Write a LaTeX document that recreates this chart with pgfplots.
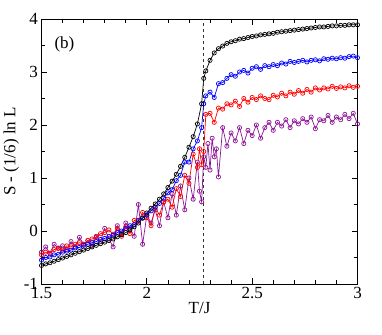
\documentclass[border=0pt]{standalone}
\usepackage{pgfplots}
\pgfplotsset{compat=1.18}
\usepackage{fontspec}
\setmainfont{Liberation Serif}

\definecolor{pur}{RGB}{140,20,150}

\pgfplotstableread{
T S
1.50 -0.40
1.52 -0.30
1.54 -0.42
1.56 -0.25
1.58 -0.32
1.60 -0.28
1.62 -0.35
1.64 -0.20
1.66 -0.30
1.68 -0.12
1.70 -0.25
1.72 -0.18
1.74 -0.28
1.76 -0.10
1.78 -0.20
1.80 0.05
1.82 -0.15
1.84 -0.30
1.86 0.10
1.88 -0.05
1.90 0.15
1.92 0.05
1.94 -0.10
1.96 0.50
1.98 -0.25
2.00 0.30
2.02 0.15
2.04 0.40
2.06 0.10
2.08 0.55
2.10 0.25
2.12 0.70
2.14 0.30
2.16 0.85
2.18 0.40
2.20 1.00
2.22 0.60
2.24 1.30
2.25 0.75
2.26 0.55
2.27 1.40
2.28 1.20
2.29 1.65
2.30 1.15
2.31 1.75
2.32 1.40
2.33 1.55
2.34 1.02
2.36 1.95
2.38 1.60
2.40 1.85
2.42 1.70
2.44 1.95
2.46 1.65
2.48 1.90
2.50 1.80
2.52 2.00
2.54 1.75
2.56 1.95
2.58 2.05
2.60 1.90
2.62 2.05
2.64 1.98
2.66 2.10
2.68 1.95
2.70 2.08
2.72 2.02
2.74 2.12
2.76 2.05
2.78 2.15
2.80 1.93
2.82 2.10
2.84 2.08
2.86 2.18
2.88 2.05
2.90 2.15
2.92 2.10
2.94 2.20
2.96 2.12
2.98 2.22
3.00 2.02
}\purpledata

\pgfplotstableread{
T S
1.50 -0.45
1.52 -0.40
1.54 -0.42
1.56 -0.35
1.58 -0.33
1.60 -0.36
1.62 -0.28
1.64 -0.30
1.66 -0.25
1.68 -0.22
1.70 -0.25
1.72 -0.18
1.74 -0.15
1.76 -0.12
1.78 -0.05
1.80 -0.03
1.82 0.02
1.84 -0.06
1.86 0.05
1.88 -0.10
1.90 0.08
1.92 -0.05
1.94 0.20
1.96 0.18
1.98 0.35
2.00 0.25
2.02 0.10
2.04 0.45
2.06 0.30
2.08 0.55
2.10 0.60
2.12 0.45
2.14 0.80
2.16 0.65
2.18 1.05
2.20 0.90
2.22 1.45
2.24 1.20
2.25 1.55
2.26 1.25
2.27 1.50
2.28 2.20
2.30 2.22
2.32 2.05
2.34 2.32
2.36 2.30
2.38 2.40
2.40 2.38
2.42 2.45
2.44 2.35
2.46 2.50
2.48 2.43
2.50 2.52
2.52 2.48
2.54 2.55
2.56 2.50
2.58 2.48
2.60 2.56
2.62 2.53
2.64 2.60
2.66 2.55
2.68 2.62
2.70 2.58
2.72 2.65
2.74 2.60
2.76 2.67
2.78 2.62
2.80 2.70
2.82 2.66
2.84 2.70
2.86 2.68
2.88 2.73
2.90 2.69
2.92 2.72
2.94 2.70
2.96 2.74
2.98 2.71
3.00 2.73
}\reddata

\pgfplotstableread{
T S
1.50 -0.55
1.52 -0.50
1.54 -0.49
1.56 -0.45
1.58 -0.44
1.60 -0.40
1.62 -0.38
1.64 -0.36
1.66 -0.32
1.68 -0.31
1.70 -0.27
1.72 -0.25
1.74 -0.22
1.76 -0.20
1.78 -0.16
1.80 -0.14
1.82 -0.10
1.84 -0.08
1.86 -0.03
1.88 0.00
1.90 0.05
1.92 0.10
1.94 0.12
1.96 0.20
1.98 0.25
2.00 0.30
2.02 0.38
2.04 0.45
2.06 0.52
2.08 0.62
2.10 0.72
2.12 0.78
2.14 0.95
2.16 1.05
2.18 1.30
2.20 1.30
2.22 1.55
2.24 1.70
2.26 1.95
2.27 2.40
2.28 2.55
2.30 2.62
2.32 2.52
2.34 2.78
2.36 2.80
2.38 2.88
2.40 2.95
2.42 2.92
2.44 3.00
2.46 3.03
2.48 2.98
2.50 3.07
2.52 3.10
2.54 3.05
2.56 3.12
2.58 3.10
2.60 3.14
2.62 3.12
2.64 3.17
2.66 3.15
2.68 3.20
2.70 3.18
2.72 3.20
2.74 3.22
2.76 3.19
2.78 3.22
2.80 3.23
2.82 3.21
2.84 3.25
2.86 3.24
2.88 3.26
2.90 3.25
2.92 3.27
2.94 3.26
2.96 3.29
2.98 3.30
3.00 3.27
}\bluedata

\pgfplotstableread{
T S
1.50 -0.65
1.52 -0.62
1.54 -0.60
1.56 -0.57
1.58 -0.54
1.60 -0.51
1.62 -0.48
1.64 -0.45
1.66 -0.42
1.68 -0.39
1.70 -0.36
1.72 -0.33
1.74 -0.30
1.76 -0.27
1.78 -0.24
1.80 -0.21
1.82 -0.18
1.84 -0.15
1.86 -0.11
1.88 -0.07
1.90 -0.03
1.92 0.02
1.94 0.08
1.96 0.15
1.98 0.24
2.00 0.34
2.02 0.43
2.04 0.51
2.06 0.60
2.08 0.70
2.10 0.82
2.12 0.94
2.14 1.07
2.16 1.22
2.18 1.39
2.20 1.58
2.22 1.78
2.24 2.02
2.26 2.40
2.27 2.88
2.28 3.02
2.30 3.22
2.32 3.36
2.34 3.44
2.36 3.49
2.38 3.54
2.40 3.57
2.42 3.59
2.44 3.62
2.46 3.63
2.48 3.65
2.50 3.67
2.52 3.68
2.54 3.70
2.56 3.71
2.58 3.72
2.60 3.73
2.62 3.75
2.64 3.76
2.66 3.77
2.68 3.78
2.70 3.79
2.72 3.80
2.74 3.81
2.76 3.82
2.78 3.83
2.80 3.84
2.82 3.85
2.84 3.85
2.86 3.86
2.88 3.87
2.90 3.87
2.92 3.88
2.94 3.88
2.96 3.89
2.98 3.89
3.00 3.89
}\blackdata

\begin{document}
\begin{tikzpicture}
\path[use as bounding box] (-41.5pt,-50pt) rectangle (340.5pt,284pt);
\begin{axis}[
    scale only axis,
    width=316pt, height=265pt,
    xmin=1.5, xmax=3, ymin=-1, ymax=4,
    xtick={1.5,2,2.5,3},
    ytick={-1,0,1,2,3,4},
    minor x tick num=4,
    minor y tick num=1,
    tick align=inside,
    major tick length=6pt,
    minor tick length=4pt,
    axis line style={line width=0.9pt},
    every tick/.style={black, line width=0.7pt},
    font=\fontsize{17}{20}\selectfont,
    /pgf/number format/assume math mode=true,
    xticklabel style={yshift=0pt},
    xlabel={T/J},
    ylabel={S - (1/6) ln L},
    xlabel style={yshift=4pt},
    ylabel style={yshift=-2pt},
    clip=false,
]
\addplot[pur, line width=0.7pt, mark=o, mark size=2.1pt, mark options={line width=0.7pt}] table[x=T,y=S] {\purpledata};
\addplot[red, line width=0.7pt, mark=o, mark size=2.1pt, mark options={line width=0.7pt}] table[x=T,y=S] {\reddata};
\addplot[blue, line width=0.7pt, mark=o, mark size=2.1pt, mark options={line width=0.7pt}] table[x=T,y=S] {\bluedata};
\addplot[black, line width=0.7pt, mark=o, mark size=2.1pt, mark options={line width=0.7pt}] table[x=T,y=S] {\blackdata};
\addplot[black!80, dashed, line width=0.7pt, forget plot] coordinates {(2.269,-1) (2.269,4)};
\node[anchor=west] at (rel axis cs:0.03,0.905) {(b)};
\end{axis}
\end{tikzpicture}
\end{document}
